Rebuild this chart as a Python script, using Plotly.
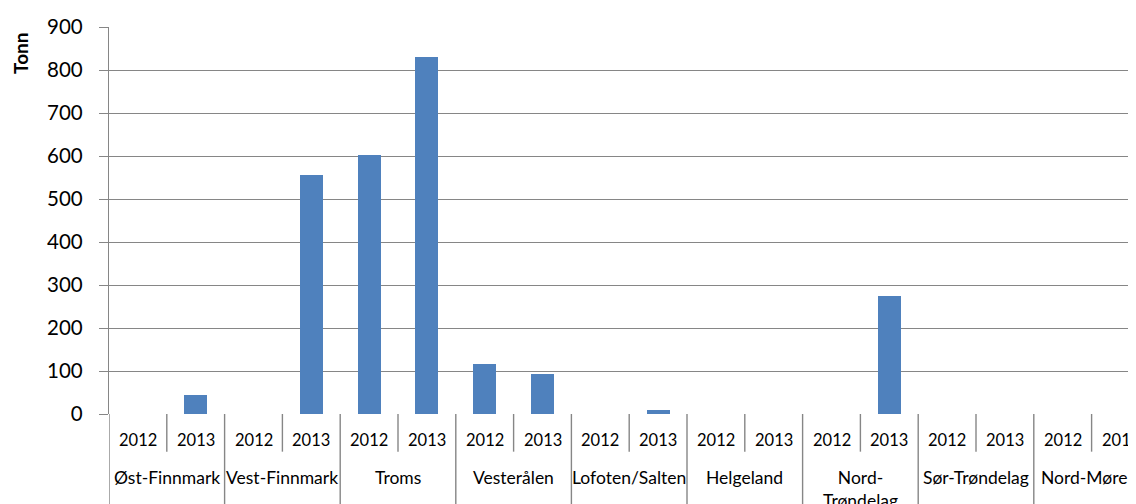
import plotly.graph_objects as go

regions = ["Øst-Finnmark", "Vest-Finnmark", "Troms", "Vesterålen", "Lofoten/Salten",
           "Helgeland", "Nord-<br>Trøndelag", "Sør-Trøndelag", "Nord-Møre"]
years = ["2012", "2013"]
values_2012 = [0, 0, 602, 116, 0, 0, 0, 0, 0]
values_2013 = [44, 556, 830, 93, 9, 0, 275, 0, 0]
y_ticks = [0, 100, 200, 300, 400, 500, 600, 700, 800, 900]
y_title = "Tonn"

# flatten into category positions
xs, ys, xlabels = [], [], []
for i, r in enumerate(regions):
    for j, yr in enumerate(years):
        xs.append(2 * i + j)
        ys.append(values_2012[i] if j == 0 else values_2013[i])
        xlabels.append(yr)

OFF = 8  # default page body margin
W, H = 1136 - OFF, 504 - OFF
ML, MR, MT = 109 - OFF, 0, 27 - OFF
base = 414.3 - OFF
MB = H - base
plot_h = H - MT - MB
cat_w = 57.8
x_end = -0.5 + (W - ML - MR) / cat_w

def py(p):
    """page pixel row -> paper y"""
    return (base - (p - OFF)) / plot_h

GRID = "#868686"
FONT = "Lato"

fig = go.Figure()
fig.add_trace(go.Bar(x=xs, y=ys, width=0.4, marker=dict(color="#4F81BD", line=dict(width=0)),
                     showlegend=False))

shapes = []
n = len(xs)
for k in range(n + 1):
    b = k - 0.5
    y1 = py(510) if k % 2 == 0 else py(452)
    shapes.append(dict(type="line", xref="x", yref="paper", x0=b, x1=b, y0=0, y1=y1,
                       line=dict(color=GRID, width=1.4)))

annotations = []
for x, lab in zip(xs, xlabels):
    annotations.append(dict(x=x, y=py(440), xref="x", yref="paper", text=lab, showarrow=False,
                            font=dict(family=FONT, size=16.5, color="#000000"),
                            xanchor="center", yanchor="middle"))
for i, r in enumerate(regions):
    ann = dict(x=2 * i + 0.5, y=py(465), xref="x", yref="paper", text=r, showarrow=False,
               font=dict(family=FONT, size=17.5, color="#000000"),
               xanchor="center", yanchor="top")
    if i == len(regions) - 1:
        # last label is pushed inside the visible area, as in the reference
        ann.update(x=1, xref="paper", xanchor="right", xshift=-6)
    annotations.append(ann)
annotations.append(dict(x=(21 - 109) / (W - ML - MR), y=py(54), xref="paper", yref="paper",
                        text="<b>" + y_title + "</b>",
                        showarrow=False, textangle=-90, font=dict(family=FONT, size=19, color="#000000"),
                        xanchor="center", yanchor="middle"))

fig.update_layout(
    width=W, height=H,
    margin=dict(l=ML, r=MR, t=MT, b=MB, pad=0),
    paper_bgcolor="white", plot_bgcolor="white",
    font=dict(family=FONT, color="#000000"),
    bargap=0,
    xaxis=dict(range=[-0.5, x_end], showticklabels=False, ticks="", showgrid=False,
               zeroline=False, showline=False, fixedrange=True),
    yaxis=dict(range=[0, 900], tickvals=y_ticks, showgrid=True, gridcolor=GRID, gridwidth=1.4,
               zeroline=False, showline=True, linecolor=GRID, linewidth=1.4,
               ticks="outside", ticklen=9, tickcolor=GRID, tickwidth=1.4,
               tickfont=dict(family=FONT, size=20.5, color="#000000"), ticklabelstandoff=12),
    shapes=shapes,
    annotations=annotations,
)

fig.write_html("out.html")
